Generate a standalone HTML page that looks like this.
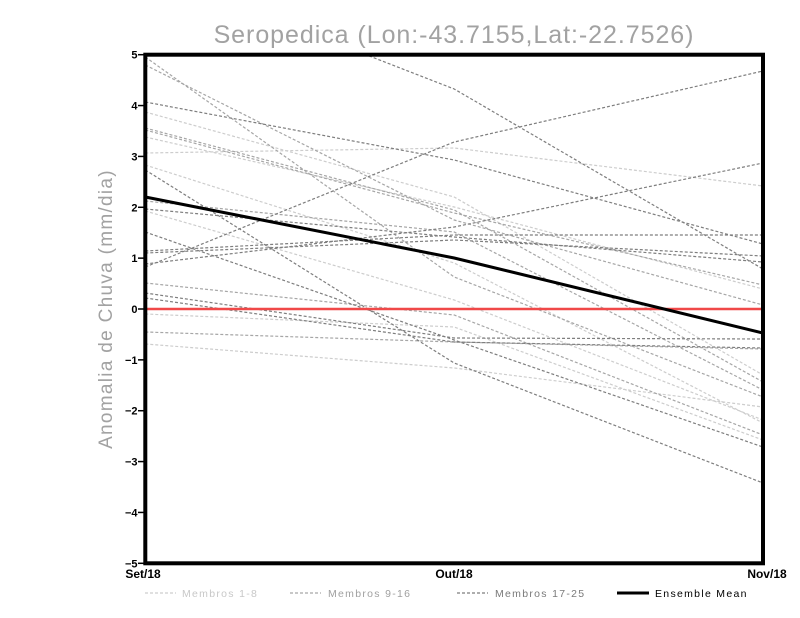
<!DOCTYPE html>
<html><head><meta charset="utf-8"><style>
html,body{margin:0;padding:0;background:#fff;}
svg{display:block;}
</style></head><body>
<svg width="800" height="618" viewBox="0 0 800 618" xmlns="http://www.w3.org/2000/svg">
<defs><clipPath id="c"><rect x="145.3" y="54.7" width="617.7" height="508.6"/></clipPath></defs>
<rect width="800" height="618" fill="#fff"/>
<text x="454" y="43" text-anchor="middle" font-family="Liberation Sans, sans-serif" font-size="25" letter-spacing="0.95" fill="#a2a2a2">Seropedica (Lon:-43.7155,Lat:-22.7526)</text>
<text transform="translate(112,309) rotate(-90)" text-anchor="middle" font-family="Liberation Sans, sans-serif" font-size="19" letter-spacing="1.3" fill="#a2a2a2">Anomalia de Chuva (mm/dia)</text>
<g clip-path="url(#c)" fill="none" stroke-width="1.2" stroke-dasharray="3 2">
<g stroke="#cdcdcd">
<polyline points="145.3,153 454.2,148 763,186"/>
<polyline points="145.3,112 454.2,197 763,375"/>
<polyline points="145.3,137 454.2,207 763,289"/>
<polyline points="145.3,165 454.2,263 763,423"/>
<polyline points="145.3,211 454.2,300 763,420"/>
<polyline points="145.3,314 454.2,327 763,440"/>
<polyline points="145.3,344 454.2,368 763,407"/>
</g>
<g stroke="#a6a6a6">
<polyline points="145.3,128 454.2,210 763,382"/>
<polyline points="145.3,130 454.2,213 763,285"/>
<polyline points="145.3,57 454.2,277 763,397"/>
<polyline points="145.3,65 454.2,220 763,305"/>
<polyline points="145.3,201 454.2,232 763,390"/>
<polyline points="145.3,283 454.2,315 763,435"/>
<polyline points="145.3,332 454.2,342 763,349"/>
</g>
<g stroke="#7e7e7e">
<polyline points="145.3,-31 454.2,89 763,269"/>
<polyline points="145.3,267 454.2,142 763,71"/>
<polyline points="145.3,264 454.2,227 763,163"/>
<polyline points="145.3,102 454.2,160 763,244"/>
<polyline points="145.3,170 454.2,363 763,483"/>
<polyline points="145.3,209 454.2,237 763,262"/>
<polyline points="145.3,232 454.2,340 763,447"/>
<polyline points="145.3,251 454.2,235 763,235"/>
<polyline points="145.3,253 454.2,240 763,256"/>
<polyline points="145.3,293 454.2,338 763,339"/>
<polyline points="145.3,298 454.2,342 763,348"/>
</g>
</g>
<line x1="145.3" y1="309" x2="763" y2="309" stroke="#f04848" stroke-width="2.5"/>
<polyline points="145.3,197 454.2,258 763,333" fill="none" stroke="#000" stroke-width="3"/>
<rect x="145.3" y="54.7" width="617.7" height="508.6" fill="none" stroke="#000" stroke-width="4"/>
<g stroke="#000" stroke-width="1.5">
<line x1="138" y1="54.7" x2="145" y2="54.7"/>
<line x1="138" y1="105.56" x2="145" y2="105.56"/>
<line x1="138" y1="156.42" x2="145" y2="156.42"/>
<line x1="138" y1="207.28" x2="145" y2="207.28"/>
<line x1="138" y1="258.14" x2="145" y2="258.14"/>
<line x1="138" y1="309" x2="145" y2="309"/>
<line x1="138" y1="359.86" x2="145" y2="359.86"/>
<line x1="138" y1="410.72" x2="145" y2="410.72"/>
<line x1="138" y1="461.58" x2="145" y2="461.58"/>
<line x1="138" y1="512.44" x2="145" y2="512.44"/>
<line x1="138" y1="563.3" x2="145" y2="563.3"/>
</g>
<g font-family="Liberation Sans, sans-serif" font-size="11" font-weight="bold" text-anchor="end" fill="#000">
<text x="137.5" y="58.7">5</text>
<text x="137.5" y="109.6">4</text>
<text x="137.5" y="160.4">3</text>
<text x="137.5" y="211.3">2</text>
<text x="137.5" y="262.1">1</text>
<text x="137.5" y="313">0</text>
<text x="137.5" y="363.9">−1</text>
<text x="137.5" y="414.7">−2</text>
<text x="137.5" y="465.6">−3</text>
<text x="137.5" y="516.4">−4</text>
<text x="137.5" y="567.3">−5</text>
</g>
<g font-family="Liberation Sans, sans-serif" font-size="12" font-weight="bold" text-anchor="middle" fill="#000">
<text x="143" y="578">Set/18</text>
<text x="454" y="578">Out/18</text>
<text x="767" y="578">Nov/18</text>
</g>
<g stroke-width="1.2" stroke-dasharray="3 2">
<line x1="145" y1="593" x2="176" y2="593" stroke="#cdcdcd"/>
<line x1="290" y1="593" x2="321" y2="593" stroke="#a6a6a6"/>
<line x1="457" y1="593" x2="488" y2="593" stroke="#7e7e7e"/>
</g>
<line x1="617" y1="593" x2="649" y2="593" stroke="#000" stroke-width="3"/>
<g font-family="Liberation Sans, sans-serif" font-size="10.5" letter-spacing="1.3">
<text x="182" y="597" fill="#c8c8c8">Membros 1-8</text>
<text x="328" y="597" fill="#a0a0a0">Membros 9-16</text>
<text x="495" y="597" fill="#7a7a7a">Membros 17-25</text>
<text x="655" y="597" fill="#000">Ensemble Mean</text>
</g>
</svg>
</body></html>
